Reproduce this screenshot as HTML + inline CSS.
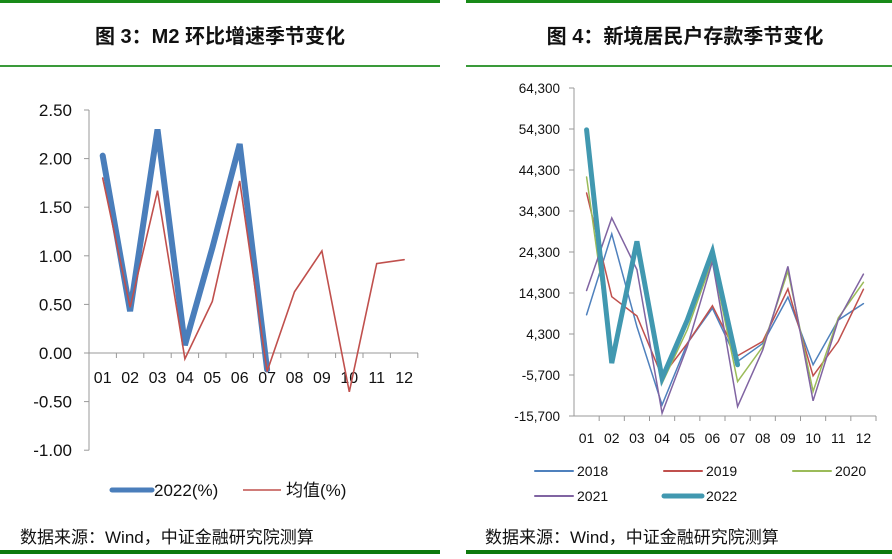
<!DOCTYPE html>
<html><head><meta charset="utf-8"><style>
html,body{margin:0;padding:0;background:#fff;}
body{width:892px;height:554px;overflow:hidden;font-family:"Liberation Sans","Noto Sans CJK SC",sans-serif;}
svg text{font-family:"Liberation Sans","Noto Sans CJK SC",sans-serif;}
</style></head><body>
<svg id="s" width="892" height="554" xmlns="http://www.w3.org/2000/svg">
<g>
<rect x="0" y="0" width="440" height="3" fill="#188a18"/>
<rect x="0" y="65" width="440" height="2" fill="#3a9a3a"/>
<rect x="0" y="550" width="440" height="4" fill="#0e7a0e"/>
<text x="220" y="43" text-anchor="middle" font-size="20" font-weight="bold" fill="#111">图 3：M2 环比增速季节变化</text>
<text x="20" y="543" font-size="17" fill="#111">数据来源：Wind，中证金融研究院测算</text>
</g>
<g>
<rect x="466" y="0" width="426" height="3" fill="#188a18"/>
<rect x="466" y="65" width="426" height="2" fill="#3a9a3a"/>
<rect x="466" y="550" width="426" height="4" fill="#0e7a0e"/>
<text x="685" y="43" text-anchor="middle" font-size="20" font-weight="bold" fill="#111">图 4：新境居民户存款季节变化</text>
<text x="485" y="543" font-size="17" fill="#111">数据来源：Wind，中证金融研究院测算</text>
</g>
<g id="c1"></g>
<g id="c2"></g>
</svg>
<script>
const months = ["01","02","03","04","05","06","07","08","09","10","11","12"];
const m2Ticks = [2.5,2.0,1.5,1.0,0.5,0.0,-0.5,-1.0];
const m2Series2022 = [2.03,0.43,2.30,0.08,1.08,2.15,-0.17];
const m2SeriesAvg = [1.80,0.47,1.67,-0.06,0.53,1.77,-0.19,0.63,1.05,-0.40,0.92,0.96];
const depTicks = [64300,54300,44300,34300,24300,14300,4300,-5700,-15700];
const dep2018 = [9000,28700,6100,-13000,2000,10600,-2400,2000,13300,-3200,7700,11700];
const dep2019 = [38700,13400,8700,-6100,2000,11200,-1000,2500,15300,-5900,2500,15200];
const dep2020 = [42600,-1500,25000,-7700,5300,22400,-7300,1200,19600,-9700,8200,16900];
const dep2021 = [14900,32600,20000,-15000,1200,22000,-13400,400,20800,-12000,7700,18900];
const dep2022 = [54100,-2800,26900,-6500,7700,24400,-3200];
const NS="http://www.w3.org/2000/svg";
function mk(p,tag,a){const e=document.createElementNS(NS,tag);for(const k in a)e.setAttribute(k,a[k]);p.appendChild(e);return e;}
const c1=document.getElementById('c1');
const x1=i=>89+27.4*(i+0.5), y1=v=>353-v*97.2;
mk(c1,'line',{x1:89,y1:y1(2.5),x2:89,y2:y1(-1),stroke:'#999','stroke-width':1});
mk(c1,'line',{x1:89,y1:y1(0),x2:418,y2:y1(0),stroke:'#999','stroke-width':1});
m2Ticks.forEach(t=>{mk(c1,'line',{x1:84,y1:y1(t),x2:89,y2:y1(t),stroke:'#999'});
const tx=mk(c1,'text',{x:72,y:y1(t)+6,'text-anchor':'end','font-size':17,fill:'#111'});tx.textContent=t.toFixed(2);

});
months.forEach((m,i)=>{mk(c1,'line',{x1:89+27.4*(i+1),y1:y1(0),x2:89+27.4*(i+1),y2:y1(0)+5,stroke:'#999'});
const tx=mk(c1,'text',{x:x1(i),y:y1(0)+30,'text-anchor':'middle','font-size':16,fill:'#111'});tx.textContent=m;

});
function line(g,data,xf,yf,col,w,name){const p=mk(g,'polyline',{points:data.map((v,i)=>xf(i)+','+yf(v)).join(' '),fill:'none',stroke:col,'stroke-width':w,'stroke-linejoin':'miter','stroke-linecap':'round'});

return p;}
line(c1,m2Series2022,x1,y1,'#4a7ebb',6,'series-2022');
line(c1,m2SeriesAvg,x1,y1,'#c0504d',1.6,'series-average');
let l=mk(c1,'line',{x1:112,y1:490,x2:152,y2:490,stroke:'#4a7ebb','stroke-width':5,'stroke-linecap':'round'});


let t=mk(c1,'text',{x:154,y:496,'font-size':17,fill:'#111'});t.textContent='2022(%)';


l=mk(c1,'line',{x1:243,y1:490,x2:281,y2:490,stroke:'#c0504d','stroke-width':1.6});


t=mk(c1,'text',{x:286,y:496,'font-size':17,fill:'#111'});t.textContent='均值(%)';


const c2=document.getElementById('c2');
const X0=574,X1=876,cw=(X1-X0)/12;
const x2=i=>X0+cw*(i+0.5), y2=v=>416-(v+15700)*0.0041;
mk(c2,'line',{x1:X0,y1:y2(64300),x2:X0,y2:y2(-15700),stroke:'#999'});
mk(c2,'line',{x1:X0,y1:y2(-15700),x2:X1,y2:y2(-15700),stroke:'#999'});
depTicks.forEach(v=>{mk(c2,'line',{x1:569,y1:y2(v),x2:X0,y2:y2(v),stroke:'#999'});
const tx=mk(c2,'text',{x:560,y:y2(v)+5,'text-anchor':'end','font-size':13.5,fill:'#111'});tx.textContent=v.toLocaleString('en-US');

});
months.forEach((m,i)=>{mk(c2,'line',{x1:X0+cw*(i+1),y1:y2(-15700),x2:X0+cw*(i+1),y2:y2(-15700)+5,stroke:'#999'});
const tx=mk(c2,'text',{x:x2(i),y:y2(-15700)+27,'text-anchor':'middle','font-size':14,fill:'#111'});tx.textContent=m;

});
line(c2,dep2018,x2,y2,'#4f81bd',1.5,'series-2018');
line(c2,dep2019,x2,y2,'#c0504d',1.5,'series-2019');
line(c2,dep2020,x2,y2,'#9bbb59',1.5,'series-2020');
line(c2,dep2021,x2,y2,'#8064a2',1.5,'series-2021');
line(c2,dep2022,x2,y2,'#4198b0',5,'series-2022');
const leg=[["2018","#4f81bd",2,535,471],["2019","#c0504d",2,664,471],["2020","#9bbb59",2,793,471],["2021","#8064a2",2,535,496],["2022","#4198b0",5,664,496]];
leg.forEach(d=>{const s=mk(c2,'line',{x1:d[3],y1:d[4],x2:d[3]+38,y2:d[4],stroke:d[1],'stroke-width':d[2],'stroke-linecap':'round'});


const tx=mk(c2,'text',{x:d[3]+42,y:d[4]+5,'font-size':14,fill:'#111'});tx.textContent=d[0];

});
</script>
</body></html>
